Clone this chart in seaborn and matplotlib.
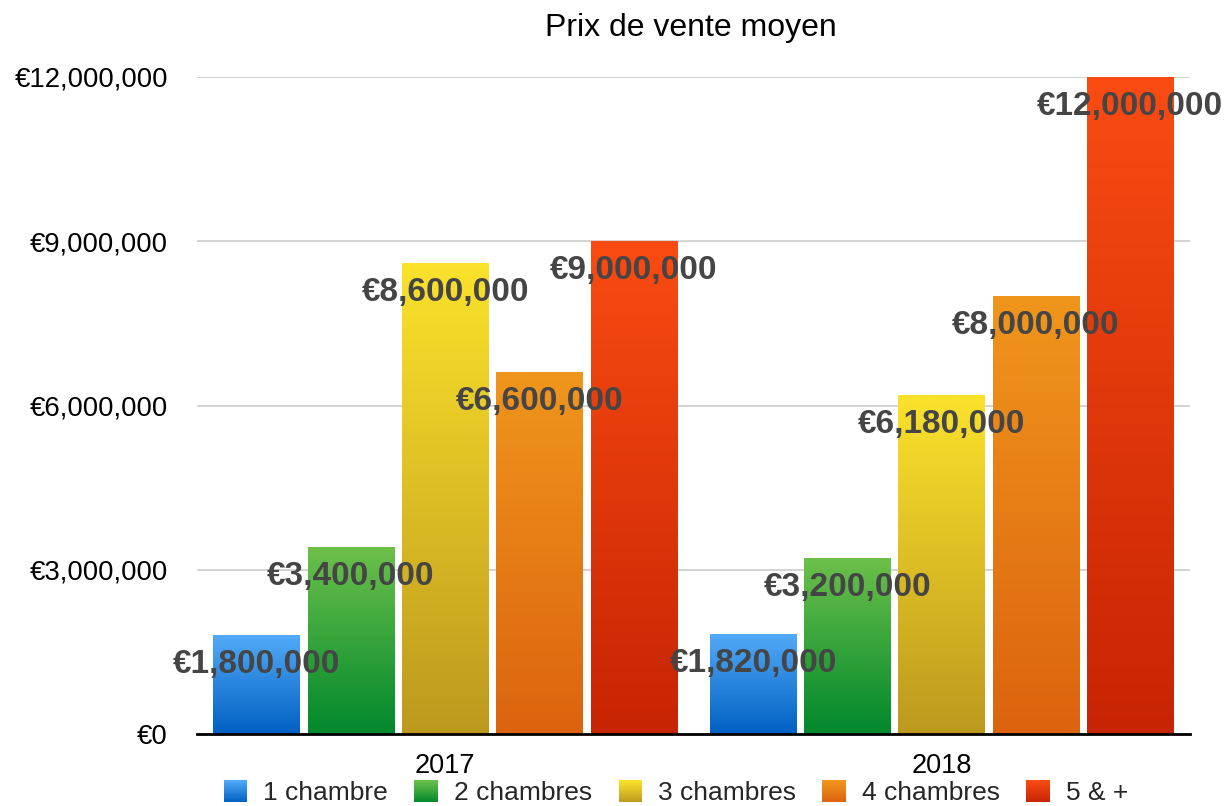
import matplotlib
matplotlib.use("Agg")
import matplotlib.pyplot as plt
import seaborn as sns
import pandas as pd
import numpy as np
from matplotlib.colors import LinearSegmentedColormap
from matplotlib.legend_handler import HandlerBase
from matplotlib.patches import Patch, Rectangle
from matplotlib.ticker import FuncFormatter

years = ["2017", "2018"]
rooms = ["1 chambre", "2 chambres", "3 chambres", "4 chambres", "5 & +"]
prices_2017 = [1800000, 3400000, 8600000, 6600000, 9000000]
prices_2018 = [1820000, 3200000, 6180000, 8000000, 12000000]

top_colors = ["#52aaf8", "#6cc04a", "#fbe22b", "#f0961c", "#fa4b12"]
bottom_colors = ["#0060c2", "#00882c", "#bd991e", "#dc630f", "#c72404"]
mid_colors = ["#2a85dd", "#33a23c", "#dcbd25", "#e67c16", "#e0380b"]

rows = []
for year, vals in zip(years, [prices_2017, prices_2018]):
    for room, v in zip(rooms, vals):
        rows.append({"annee": year, "chambres": room, "prix": v})
df = pd.DataFrame(rows)

sns.set_style("white")
plt.rcParams["font.family"] = ["Liberation Sans", "DejaVu Sans"]

fig = plt.figure(figsize=(12.24, 8.06), dpi=100)
ax = fig.add_axes([197 / 1224, 1 - 734 / 806, (1190 - 197) / 1224, (734 - 77) / 806])

sns.barplot(data=df, x="annee", y="prix", hue="chambres", order=years,
            hue_order=rooms, palette=mid_colors, width=0.95, gap=0.08,
            legend=False, ax=ax, errorbar=None)


def gradient_cmap(i):
    return LinearSegmentedColormap.from_list(f"g{i}", [bottom_colors[i], top_colors[i]])


grad = np.linspace(0, 1, 256).reshape(-1, 1)
for i, cont in enumerate(ax.containers):
    cmap = gradient_cmap(i)
    for bar in cont:
        x0, y0 = bar.get_x(), bar.get_y()
        w, h = bar.get_width(), bar.get_height()
        ax.imshow(grad, cmap=cmap, origin="lower", aspect="auto",
                  extent=(x0, x0 + w, y0, y0 + h), zorder=2, interpolation="bilinear")
        bar.set_facecolor("none")
        bar.set_edgecolor("none")
        ax.annotate(f"€{h:,.0f}", (x0 + w / 2, y0 + h), xytext=(0, -29),
                    textcoords="offset pixels", ha="center", va="center",
                    fontsize=24, fontweight="bold", color="#454545", zorder=5,
                    annotation_clip=False)

ax.set_xlim(-0.5, 1.5)
ax.set_ylim(0, 12000000)
ax.set_yticks([0, 3000000, 6000000, 9000000, 12000000])
ax.yaxis.set_major_formatter(FuncFormatter(lambda v, p: f"€{v:,.0f}"))
ax.tick_params(axis="y", length=0, pad=21, labelsize=19.8, labelcolor="black")
ax.tick_params(axis="x", length=0, pad=14, labelsize=19.5, labelcolor="black")
ax.set_xlabel("")
ax.set_ylabel("")
ax.grid(axis="y", color="#cccccc", linewidth=1.2)
ax.grid(axis="x", visible=False)
ax.set_axisbelow(True)
for s in ["left", "top", "right"]:
    ax.spines[s].set_visible(False)
ax.spines["bottom"].set_color("black")
ax.spines["bottom"].set_linewidth(2)
ax.spines["bottom"].set_zorder(4)

fig.text(691 / 1224, 1 - 28 / 806, "Prix de vente moyen", ha="center", va="center",
         fontsize=23, color="black")


class GradientHandler(HandlerBase):
    def __init__(self, idx):
        super().__init__()
        self.idx = idx

    def create_artists(self, legend, orig_handle, xdescent, ydescent, width, height, fontsize, trans):
        cmap = gradient_cmap(self.idx)
        n = 16
        arts = []
        for k in range(n):
            r = Rectangle((-xdescent, -ydescent + height * k / n), width, height / n * 1.05,
                          facecolor=cmap((k + 0.5) / n), edgecolor="none", transform=trans)
            arts.append(r)
        return arts


handles = [Patch(facecolor=c, label=r) for c, r in zip(mid_colors, rooms)]
handler_map = {h: GradientHandler(i) for i, h in enumerate(handles)}
fig.legend(handles=handles, labels=rooms, handler_map=handler_map, loc="center",
           bbox_to_anchor=(676 / 1224, 1 - 793 / 806), ncol=5, frameon=False,
           fontsize=19, handlelength=0.88, handleheight=0.88, handletextpad=0.62,
           columnspacing=1.0, borderpad=0)

fig.savefig("out.png", dpi=100)
